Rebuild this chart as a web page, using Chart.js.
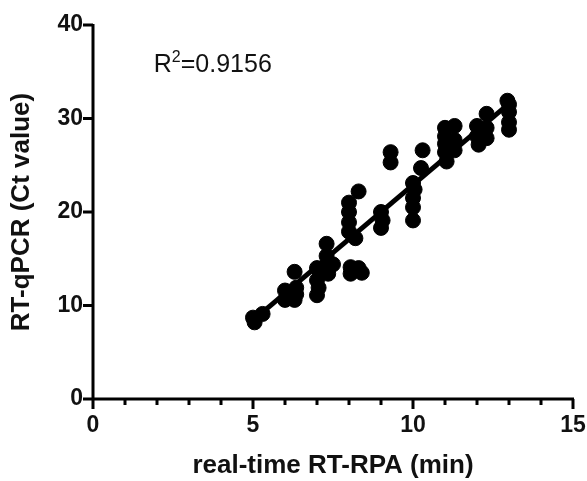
<!DOCTYPE html>
<html>
<head>
<meta charset="utf-8">
<script src="https://cdn.jsdelivr.net/npm/chart.js@4.4.0/dist/chart.umd.min.js"></script>
<style>
  html, body { margin: 0; padding: 0; background: #fff; }
  #wrap { width: 587px; height: 481px; }
</style>
</head>
<body>
<div id="wrap"><canvas id="scatterChart"></canvas></div>
<script>
// tempos do RT-RPA (min) e Ct do RT-qPCR
const rpaMin = [5, 5.05, 5.3, 6, 6, 6.1, 6.3, 6.3, 6.35, 6.35,
                7, 7, 7, 7.05, 7.3, 7.3, 7.3, 7.35, 7.5,
                8, 8, 8, 8, 8.05, 8.05, 8.3, 8.2, 8.3, 8.4,
                9, 9, 9.05, 9.3, 9.3,
                10, 10, 10, 10, 10.05, 10.3, 10.25,
                11, 11, 11, 11, 11.05, 11.3, 11.3, 11.3,
                12, 12, 12.05, 12.3, 12.3, 12.3,
                13, 13, 13, 13, 12.95];
const ctValue = [8.7, 8.2, 9.1, 11.6, 10.6, 11.0, 13.6, 10.6, 11.9, 11.2,
                 14.0, 12.7, 11.1, 11.9, 16.6, 15.3, 14.2, 13.4, 14.4,
                 21.0, 20.0, 18.9, 17.9, 14.1, 13.4, 22.2, 17.2, 14.0, 13.5,
                 20.0, 18.3, 19.1, 26.4, 25.3,
                 23.1, 21.5, 20.5, 19.1, 22.4, 26.6, 24.7,
                 29.0, 28.1, 27.3, 26.4, 25.4, 29.2, 27.7, 26.6,
                 29.2, 28.1, 27.2, 30.5, 27.9, 29.0,
                 31.5, 30.7, 29.6, 28.8, 31.9];

// reta de regressão (extremos)
const fitX = [5, 13];
const fitY = [8.4, 31.6];
const rSquared = '0.9156';

const xTicks = [0, 5, 10, 15];
const yTicks = [0, 10, 20, 30, 40];

const pontos = rpaMin.map((x, i) => ({ x: x, y: ctValue[i] }));
const reta = fitX.map((x, i) => ({ x: x, y: fitY[i] }));

const familia = '"Liberation Sans", Arial, sans-serif';

// desenha eixos e traços (maiores nos valores rotulados) + texto do R²
const ticksPlugin = {
    id: 'axisTicks',
    afterDraw(chart) {
        const ctx = chart.ctx;
        const xs = chart.scales.x, ys = chart.scales.y;
        ctx.save();
        ctx.strokeStyle = '#000';
        ctx.lineWidth = 3;
        ctx.lineCap = 'butt';
        ctx.beginPath();
        ctx.moveTo(xs.left, ys.top - 1);
        ctx.lineTo(xs.left, ys.bottom);
        ctx.lineTo(xs.right + 1, ys.bottom);
        for (let v = 0; v <= 15; v++) {
            const px = xs.getPixelForValue(v);
            const len = xTicks.includes(v) ? 10 : 6;
            ctx.moveTo(px, ys.bottom);
            ctx.lineTo(px, ys.bottom + len);
        }
        yTicks.forEach(v => {
            const py = ys.getPixelForValue(v);
            ctx.moveTo(xs.left, py);
            ctx.lineTo(xs.left - 10, py);
        });
        ctx.stroke();

        // R²
        const x0 = xs.getPixelForValue(1.9);
        const y0 = ys.getPixelForValue(35.7);
        ctx.fillStyle = '#111';
        ctx.textBaseline = 'middle';
        ctx.font = '25px ' + familia;
        ctx.fillText('R', x0, y0);
        const rw = ctx.measureText('R').width;
        ctx.font = '16px ' + familia;
        ctx.fillText('2', x0 + rw, y0 - 8);
        const sw = ctx.measureText('2').width;
        ctx.font = '25px ' + familia;
        ctx.fillText('=' + rSquared, x0 + rw + sw, y0);
        ctx.restore();
    }
};

const fonteTicks = { family: familia, size: 23, weight: 'bold' };
const fonteTitulo = { family: familia, size: 26, weight: 'bold' };

const config = {
    type: 'scatter',
    data: {
        datasets: [{
            label: 'amostras',
            data: pontos,
            backgroundColor: '#000',
            borderColor: '#000',
            pointRadius: 7.5,
            pointHoverRadius: 7.5
        }, {
            type: 'line',
            label: 'regressão',
            data: reta,
            borderColor: '#000',
            borderWidth: 5,
            pointRadius: 0,
            fill: false
        }]
    },
    options: {
        responsive: true,
        maintainAspectRatio: false,
        animation: false,
        layout: { padding: { top: 25, right: 0, left: 0, bottom: 0 } },
        plugins: { legend: { display: false }, tooltip: { enabled: false } },
        scales: {
            x: {
                type: 'linear',
                min: 0, max: 15,
                afterFit: s => { s.height = 82; s.paddingRight = 14; },
                afterBuildTicks: s => { s.ticks = xTicks.map(v => ({ value: v })); },
                border: { display: false },
                grid: { display: false },
                ticks: { color: '#111', font: fonteTicks, padding: 5, maxRotation: 0 },
                title: { display: true, text: 'real-time RT-RPA (min)', color: '#111', font: fonteTitulo, padding: { top: 0, bottom: 0 } }
            },
            y: {
                type: 'linear',
                min: 0, max: 40,
                afterFit: s => { s.width = 93; },
                afterBuildTicks: s => { s.ticks = yTicks.map(v => ({ value: v })); },
                border: { display: false },
                grid: { display: false },
                ticks: { color: '#111', font: fonteTicks, padding: 2 },
                title: { display: true, text: 'RT-qPCR (Ct value)', color: '#111', font: fonteTitulo, padding: { top: 6, bottom: 0 } }
            }
        }
    },
    plugins: [ticksPlugin]
};

const ctx = document.getElementById('scatterChart').getContext('2d');
window.myChart = new Chart(ctx, config);
</script>
</body>
</html>
